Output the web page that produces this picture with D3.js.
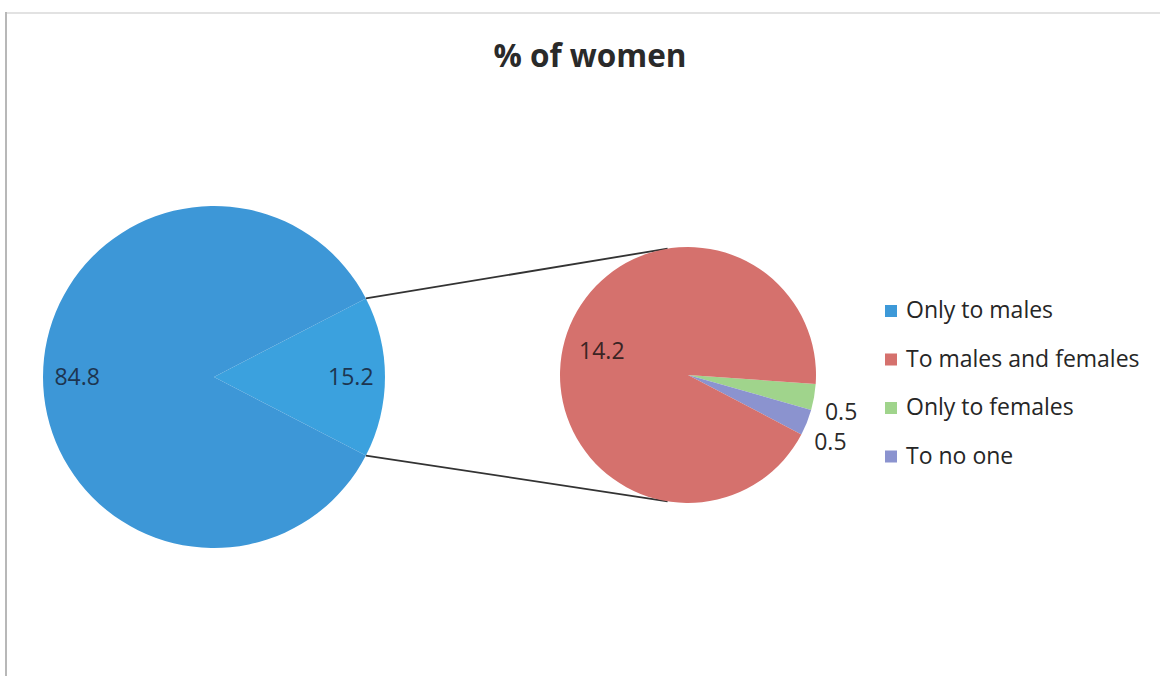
<!DOCTYPE html>
<html>
<head>
<meta charset="utf-8">
<script src="https://cdn.jsdelivr.net/npm/d3@7"></script>
<style>
  body { margin: 0; background: #fff; }
  svg { display: block; }
</style>
</head>
<body>
<svg id="chart"></svg>
<script>
// data
var mainCategories = ["Other answers", "Only to males"];
var mainValues = [15.2, 84.8];

var subCategories = ["Only to females", "To no one", "To males and females"];
var subValues = [0.5, 0.5, 14.2];

var legendLabels = ["Only to males", "To males and females", "Only to females", "To no one"];
var legendColors = ["#3d99d8", "#d5716d", "#a0d48c", "#8b93cf"];

var width = 1160, height = 676;
var font = "'Open Sans', 'DejaVu Sans', sans-serif";

var svg = d3.select("#chart")
    .attr("width", width)
    .attr("height", height);

svg.append("rect").attr("width", width).attr("height", height).attr("fill", "#fff");

// chart frame (scan edges)
svg.append("line")
    .attr("x1", 6).attr("y1", 13).attr("x2", width).attr("y2", 13)
    .attr("stroke", "#e2e2e2").attr("stroke-width", 2);
svg.append("line")
    .attr("x1", 6).attr("y1", 12).attr("x2", 6).attr("y2", height)
    .attr("stroke", "#b8b8b8").attr("stroke-width", 2);

// title
svg.append("text")
    .attr("x", 590)
    .attr("y", 67)
    .attr("text-anchor", "middle")
    .style("font-family", font)
    .style("font-weight", "bold")
    .style("font-size", "31.5px")
    .attr("fill", "#2a2a2a")
    .text("% of women");

// main pie
var cx1 = 214, cy1 = 377, r1 = 171;
var splitAngle = mainValues[0] / d3.sum(mainValues) * 2 * Math.PI;
var pie1 = d3.pie().sort(null)
    .startAngle(Math.PI / 2 - splitAngle / 2)
    .endAngle(Math.PI / 2 - splitAngle / 2 + 2 * Math.PI);
var arcs1 = pie1(mainValues);
var arc1 = d3.arc().innerRadius(0).outerRadius(r1);
var labelArc1 = d3.arc().innerRadius(r1 * 0.8).outerRadius(r1 * 0.8);
var mainColors = ["#3ba1de", "#3d97d7"];

var g1 = svg.append("g").attr("transform", "translate(" + cx1 + "," + cy1 + ")");
g1.selectAll("path")
    .data(arcs1)
    .enter().append("path")
    .attr("d", arc1)
    .attr("fill", function(d, i) { return mainColors[i]; });

g1.selectAll("text")
    .data(arcs1)
    .enter().append("text")
    .attr("transform", function(d) { return "translate(" + labelArc1.centroid(d) + ")"; })
    .attr("dy", "0.35em")
    .attr("text-anchor", "middle")
    .style("font-family", font)
    .style("font-size", "23px")
    .attr("fill", "#1d3550")
    .text(function(d) { return d.data.toFixed(1); });

// second pie
var cx2 = 688, cy2 = 375, r2 = 128;
var start2 = 94 * Math.PI / 180;
var pie2 = d3.pie().sort(null)
    .startAngle(start2)
    .endAngle(start2 + 2 * Math.PI);
var arcs2 = pie2(subValues);
var arc2 = d3.arc().innerRadius(0).outerRadius(r2);
var subColors = ["#a0d48c", "#8b93cf", "#d5716d"];

// connector lines
function pt(cx, cy, r, a) { return [cx + r * Math.sin(a), cy - r * Math.cos(a)]; }
var topA = pt(cx1, cy1, r1, arcs1[0].startAngle), botA = pt(cx1, cy1, r1, arcs1[0].endAngle);
var topB = pt(cx2, cy2, r2, -0.16), botB = pt(cx2, cy2, r2, Math.PI + 0.16);
[[topA, topB], [botA, botB]].forEach(function(p) {
    svg.append("line")
        .attr("x1", p[0][0]).attr("y1", p[0][1])
        .attr("x2", p[1][0]).attr("y2", p[1][1])
        .attr("stroke", "#333").attr("stroke-width", 1.8);
});

var g2 = svg.append("g").attr("transform", "translate(" + cx2 + "," + cy2 + ")");
g2.selectAll("path")
    .data(arcs2)
    .enter().append("path")
    .attr("d", arc2)
    .attr("fill", function(d, i) { return subColors[i]; });

// labels: big slice inside, small ones outside
g2.selectAll("text")
    .data(arcs2)
    .enter().append("text")
    .attr("transform", function(d) {
        var big = d.data > 5;
        var a = (d.startAngle + d.endAngle) / 2 + (big ? 0 : 3.5 * Math.PI / 180);
        var rr = big ? r2 * 0.7 : r2 * 1.23;
        return "translate(" + (rr * Math.sin(a)) + "," + (-rr * Math.cos(a)) + ")";
    })
    .attr("dy", "0.35em")
    .attr("text-anchor", "middle")
    .style("font-family", font)
    .style("font-size", "23px")
    .attr("fill", function(d) { return d.data > 5 ? "#3a2424" : "#2a2a2a"; })
    .text(function(d) { return d.data.toFixed(1); });

// legend
var legend = svg.append("g").attr("transform", "translate(885,0)");
var rows = legend.selectAll("g")
    .data(legendLabels)
    .enter().append("g")
    .attr("transform", function(d, i) { return "translate(0," + (310 + i * 48.5) + ")"; });
rows.append("rect")
    .attr("x", 0).attr("y", -5)
    .attr("width", 12).attr("height", 12)
    .attr("fill", function(d, i) { return legendColors[i]; });
rows.append("text")
    .attr("x", 21)
    .attr("dy", "0.35em")
    .style("font-family", font)
    .style("font-size", "23px")
    .attr("fill", "#262626")
    .text(function(d) { return d; });
</script>
</body>
</html>
